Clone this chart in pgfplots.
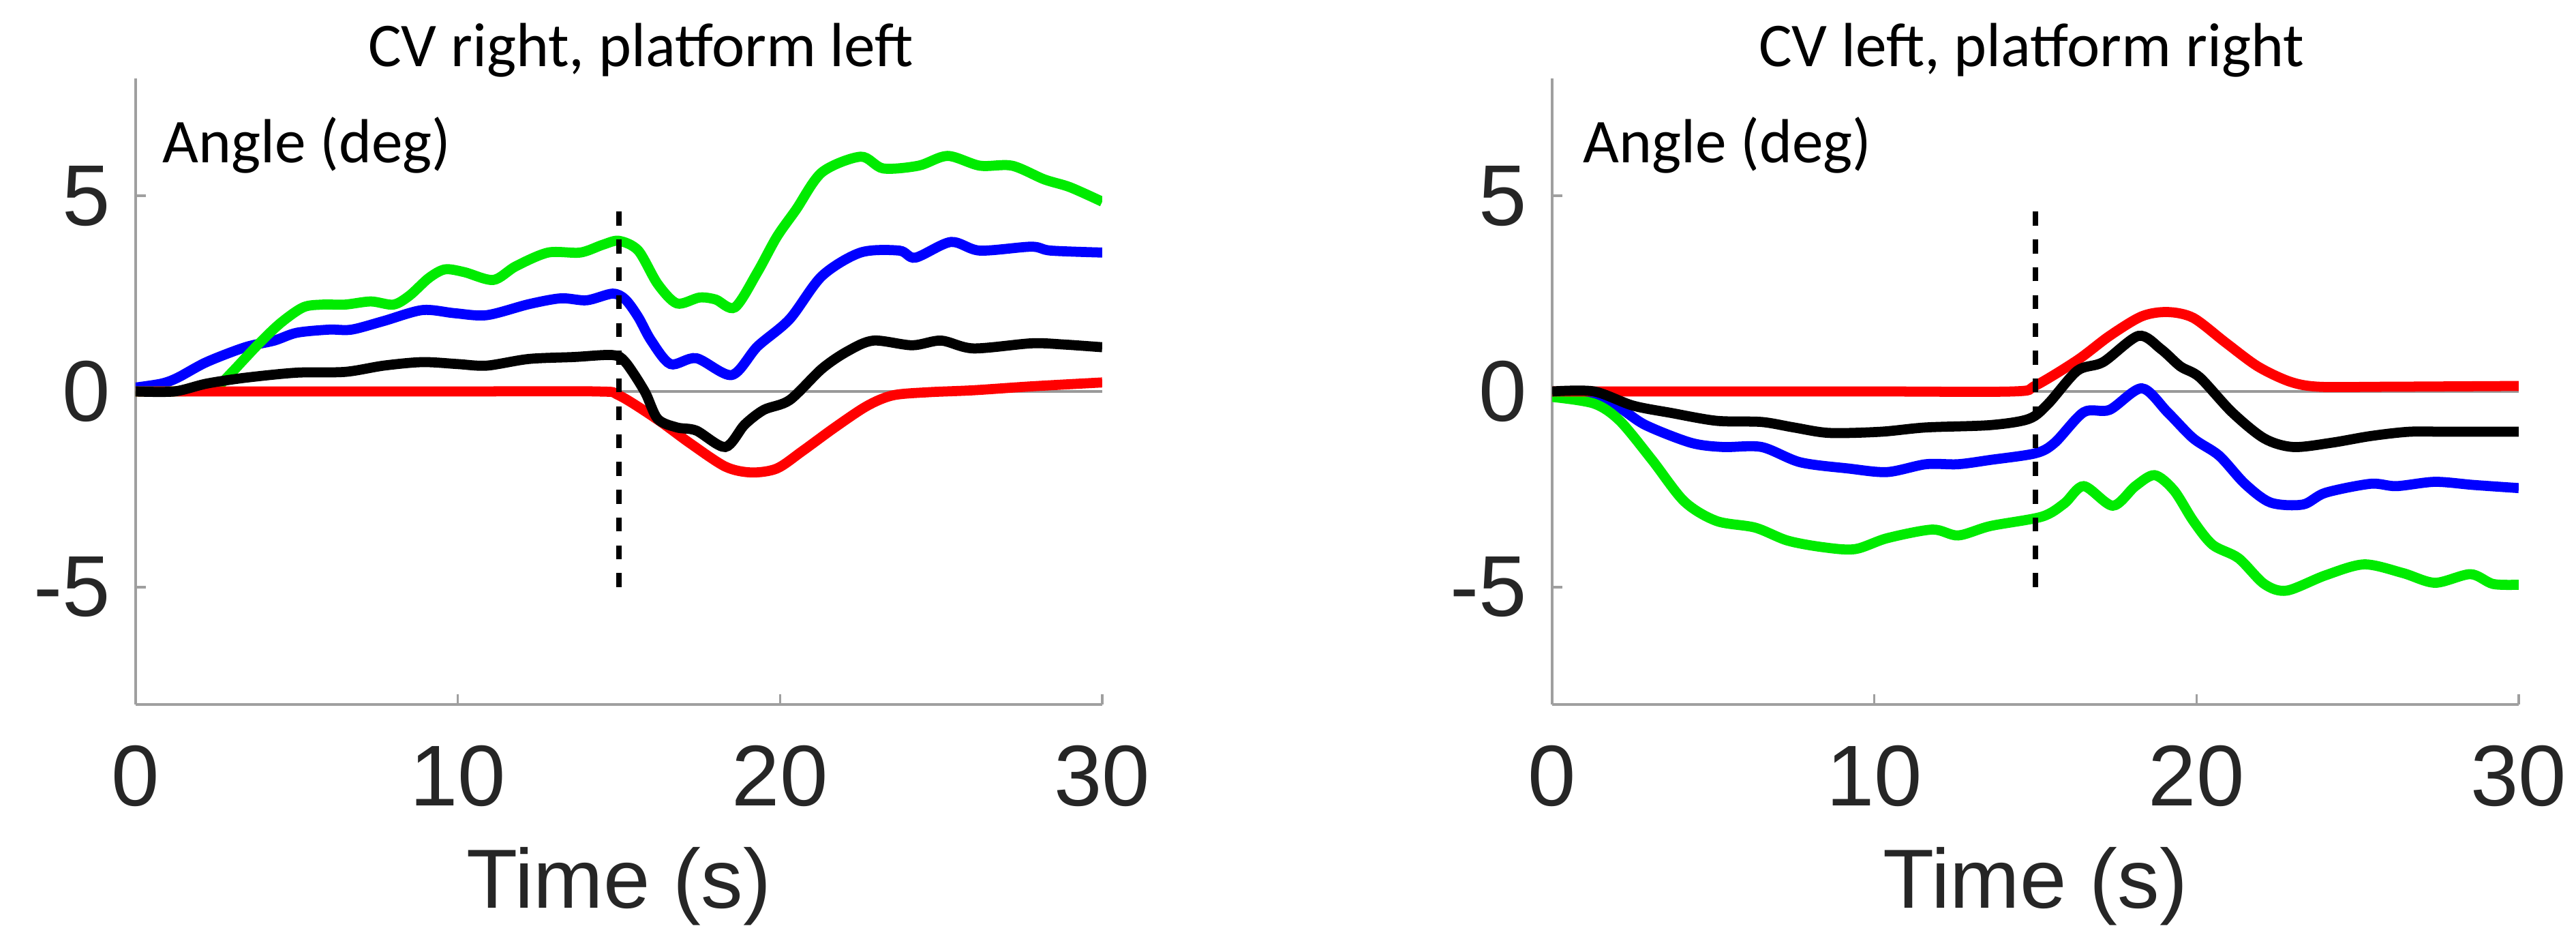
\documentclass[border=0pt]{standalone}
\usepackage{pgfplots}
\pgfplotsset{compat=1.18}
\usepackage{fontspec}
\setmainfont{Liberation Sans}
\newfontfamily\calibri{Carlito}

\definecolor{cgreen}{RGB}{0,235,0}
\definecolor{cblue}{RGB}{0,0,255}
\definecolor{cred}{RGB}{255,0,0}

\pgfplotsset{
  angleplot/.style={
    scale only axis, width=7.09cm, height=4.59cm,
    xmin=0, xmax=30, ymin=-8, ymax=8,
    axis lines=left,
    axis line style={-, gray!75, line width=0.5pt},
    xtick={0,10,20,30}, ytick={-5,0,5},
    tick align=inside, major tick length=0.075cm,
    tick style={gray!75, line width=0.5pt},
    ticklabel style={font=\fontsize{18}{20}\selectfont, text=black!85},
    /pgf/number format/assume math mode=true,
    xticklabel style={anchor=north, inner sep=0pt, yshift=-0.295cm},
    yticklabel style={anchor=east, inner sep=0pt, xshift=-0.18cm},
    xlabel={Time (s)},
    xlabel style={at={(axis description cs:0.5,0)}, anchor=base, yshift=-1.495cm,
      font=\fontsize{17.5}{20}\selectfont, text=black!85},
    every axis title/.style={font=\calibri\fontsize{13}{15}\selectfont,
      anchor=base, inner sep=0pt},
    every axis plot/.append style={line width=2.1pt, smooth, tension=0.5},
  },
  zeroline/.style={gray!80, line width=0.5pt, sharp plot},
  onset/.style={black, line width=1pt, dash pattern=on 2.9pt off 2.9pt, sharp plot},
}

\begin{document}
\begin{tikzpicture}
\useasboundingbox (0,0) rectangle (18.895,6.965);

% left panel
\begin{axis}[angleplot, at={(0.995cm,1.8cm)}, anchor=south west,
  title={CV right, platform left},
  title style={at={(axis description cs:0.5226,1)}, yshift=0.09cm}]
\addplot[zeroline] coordinates {(0,0) (30,0)};
\addplot[cblue] coordinates {
(0,0.1) (0.8,0.2) (1.3,0.35) (2.2,0.75) (3.4,1.13) (4.3,1.3) (5.0,1.5) (6,1.58)
(6.7,1.58) (7.7,1.8) (8.9,2.08) (9.9,2.0) (10.9,1.95) (12.2,2.23) (13.2,2.38)
(14,2.33) (14.8,2.5) (15.2,2.35) (15.6,1.9) (16,1.3) (16.6,0.7) (17.4,0.85)
(18.5,0.42) (19.3,1.15) (20.3,1.85) (21.3,2.95) (22.5,3.55) (23.7,3.6) (24.2,3.42)
(25.3,3.82) (26.2,3.6) (27.8,3.7) (28.4,3.6) (30,3.55)};
\addplot[cgreen] coordinates {
(0,0) (1,0) (2,0.02) (2.5,0.1) (3,0.5) (3.8,1.2) (4.5,1.75) (5.2,2.15) (5.8,2.22)
(6.5,2.22) (7.3,2.3) (8,2.22) (8.5,2.45) (9.1,2.9) (9.6,3.12) (10.2,3.05) (11.1,2.85)
(11.8,3.2) (12.8,3.55) (13.8,3.55) (14.5,3.75) (15,3.85) (15.6,3.6) (16.2,2.75)
(16.8,2.25) (17.5,2.4) (18,2.35) (18.6,2.15) (19.3,3.05) (19.9,3.95) (20.5,4.65)
(21.3,5.6) (22.5,6.0) (23.2,5.7) (24.3,5.77) (25.2,6.02) (26.2,5.77) (27.2,5.77)
(28.2,5.42) (29,5.22) (30,4.85)};
\addplot[cred] coordinates {
(0,0) (5,0) (10,0) (14.3,0) (15,-0.1) (16.2,-0.72) (17.2,-1.32) (18.3,-1.92)
(19.1,-2.07) (19.9,-1.97) (20.7,-1.52) (21.7,-0.92) (22.7,-0.37) (23.5,-0.1)
(24.6,-0.02) (26,0.03) (27.8,0.13) (30,0.23)};
\addplot[black] coordinates {
(0,0) (1.2,0) (2.2,0.2) (3.4,0.35) (5,0.48) (6.5,0.5) (7.7,0.66) (8.9,0.75) (10,0.7)
(10.9,0.66) (12.2,0.83) (13.6,0.88) (14.8,0.93) (15.2,0.75) (15.8,0) (16.2,-0.7)
(16.8,-0.92) (17.4,-1.0) (18.3,-1.42) (18.9,-0.85) (19.5,-0.47) (20.3,-0.22)
(21.3,0.58) (22.1,1.03) (22.9,1.3) (24.1,1.18) (25,1.3) (26,1.1) (27.8,1.23)
(28.8,1.2) (30,1.13)};
\addplot[onset] coordinates {(15,-5) (15,4.8)};
\node[anchor=base west, inner sep=0pt, font=\calibri\fontsize{13}{15}\selectfont]
  at (axis description cs:0.027,0.866) {Angle (deg)};
\end{axis}

% right panel
\begin{axis}[angleplot, at={(11.385cm,1.8cm)}, anchor=south west,
  title={CV left, platform right},
  title style={at={(axis description cs:0.4958,1)}, yshift=0.09cm}]
\addplot[zeroline] coordinates {(0,0) (30,0)};
\addplot[cblue] coordinates {
(0,-0.03) (1.3,-0.08) (2.1,-0.42) (2.9,-0.86) (4.3,-1.31) (5.3,-1.42) (6.5,-1.42)
(7.7,-1.81) (9.2,-1.97) (10.4,-2.06) (11.6,-1.86) (12.6,-1.86) (13.6,-1.75)
(15,-1.58) (15.6,-1.31) (16.5,-0.53) (17.3,-0.47) (18.3,0.08) (19.1,-0.53)
(19.9,-1.2) (20.7,-1.64) (21.5,-2.36) (22.3,-2.84) (23.3,-2.89) (24,-2.59)
(25.4,-2.36) (26.2,-2.42) (27.4,-2.31) (28.6,-2.39) (30,-2.47)};
\addplot[cgreen] coordinates {
(0,-0.14) (1.3,-0.31) (2.1,-0.75) (3.1,-1.75) (4.1,-2.81) (5.1,-3.31) (6.3,-3.48)
(7.3,-3.81) (8.4,-3.98) (9.4,-4.03) (10.4,-3.75) (11.8,-3.53) (12.6,-3.68)
(13.6,-3.44) (15.2,-3.2) (15.9,-2.86) (16.5,-2.42) (17.4,-2.92) (18.1,-2.42)
(18.7,-2.14) (19.3,-2.53) (19.9,-3.31) (20.5,-3.92) (21.3,-4.26) (22.1,-4.92)
(22.8,-5.09) (24,-4.7) (25.2,-4.42) (26.4,-4.64) (27.4,-4.89) (28.5,-4.67)
(29.2,-4.92) (30,-4.94)};
\addplot[cred] coordinates {
(0,0) (5,0) (10,0) (14.3,0) (15,0.15) (16.3,0.8) (17.3,1.42) (18.3,1.92) (19.1,2.03)
(19.9,1.88) (20.9,1.25) (21.9,0.64) (22.9,0.25) (23.8,0.12) (25.8,0.12) (30,0.14)};
\addplot[black] coordinates {
(0,0) (1.3,0) (2.5,-0.36) (3.7,-0.55) (5.1,-0.75) (6.5,-0.78) (7.5,-0.92) (8.6,-1.06)
(10.2,-1.03) (11.6,-0.92) (13.6,-0.86) (14.8,-0.7) (15.4,-0.31) (16.3,0.53)
(17.1,0.75) (18.2,1.42) (18.9,1.08) (19.5,0.64) (20.1,0.36) (21.1,-0.53) (22.1,-1.2)
(23,-1.42) (24.2,-1.31) (25.4,-1.14) (26.6,-1.03) (27.8,-1.03) (30,-1.03)};
\addplot[onset] coordinates {(15,-5) (15,4.8)};
\node[anchor=base west, inner sep=0pt, font=\calibri\fontsize{13}{15}\selectfont]
  at (axis description cs:0.031,0.866) {Angle (deg)};
\end{axis}
\end{tikzpicture}
\end{document}
